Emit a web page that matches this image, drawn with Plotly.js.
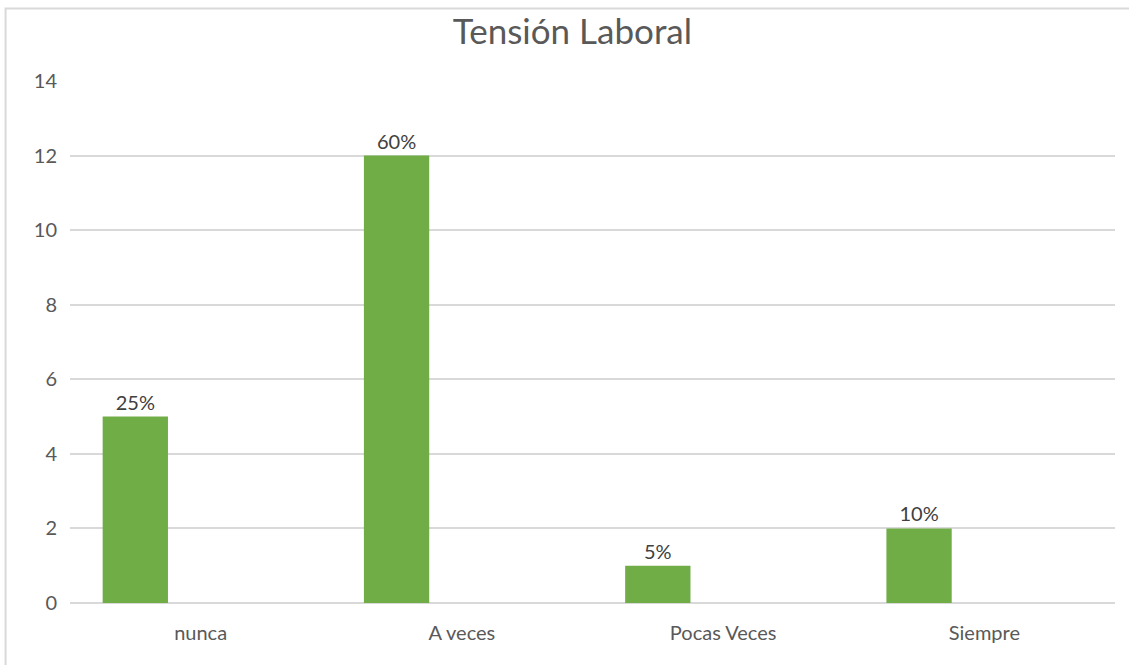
<!DOCTYPE html>
<html>
<head>
<meta charset="utf-8">
<script src="https://cdn.plot.ly/plotly-3.0.1.min.js"></script>
<style>html,body{margin:0;padding:0;background:#fff;}#chart{width:1129px;height:665px;}</style>
</head>
<body>
<div id="chart"></div>
<script>
const categories = ["nunca", "A veces", "Pocas Veces", "Siempre"];
const values = [5, 12, 1, 2];
const labels = ["25%", "60%", "5%", "10%"];
const yTicks = [0, 2, 4, 6, 8, 10, 12, 14];

const trace = {
  type: "bar",
  x: categories,
  y: values,
  text: labels,
  textposition: "outside",
  cliponaxis: false,
  textfont: {family: "Lato, 'Open Sans', sans-serif", size: 20, color: "#404040"},
  marker: {color: "#70AD47", line: {width: 0}},
  width: 0.25,
  offset: -0.375,
  hoverinfo: "skip"
};

const bx0 = (5 - 69.5) / 1046;
const by1 = 1 + (81 - 8.5) / 522;

const layout = {
  width: 1129,
  height: 665,
  margin: {l: 69.5, r: 13.5, t: 81, b: 62},
  paper_bgcolor: "#ffffff",
  plot_bgcolor: "#ffffff",
  showlegend: false,
  title: {
    text: "Tensión Laboral",
    font: {family: "Lato, 'Open Sans', sans-serif", size: 35, color: "#595959"},
    x: 0.507, xref: "container", xanchor: "center",
    y: 0.952, yref: "container", yanchor: "middle"
  },
  xaxis: {
    type: "category",
    showgrid: false,
    zeroline: false,
    showline: false,
    ticks: "",
    ticklabelstandoff: 16,
    tickfont: {family: "Lato, 'Open Sans', sans-serif", size: 20, color: "#595959"},
    fixedrange: true
  },
  yaxis: {
    range: [0, 14],
    tickvals: yTicks,
    ticktext: yTicks.map(String),
    showgrid: true,
    gridcolor: "#D9D9D9",
    gridwidth: 2,
    zeroline: true,
    zerolinecolor: "#D9D9D9",
    zerolinewidth: 2,
    showline: false,
    ticks: "",
    ticklabelstandoff: 12,
    tickfont: {family: "Lato, 'Open Sans', sans-serif", size: 20, color: "#595959"},
    fixedrange: true
  },
  shapes: [{
    type: "path",
    xref: "paper", yref: "paper",
    path: "M " + bx0 + "," + (-0.3) + " L " + bx0 + "," + by1 + " L 1.3," + by1,
    line: {color: "#D9D9D9", width: 2},
    layer: "below"
  }]
};

Plotly.newPlot("chart", [trace], layout, {displayModeBar: false, staticPlot: true});
</script>
</body>
</html>
